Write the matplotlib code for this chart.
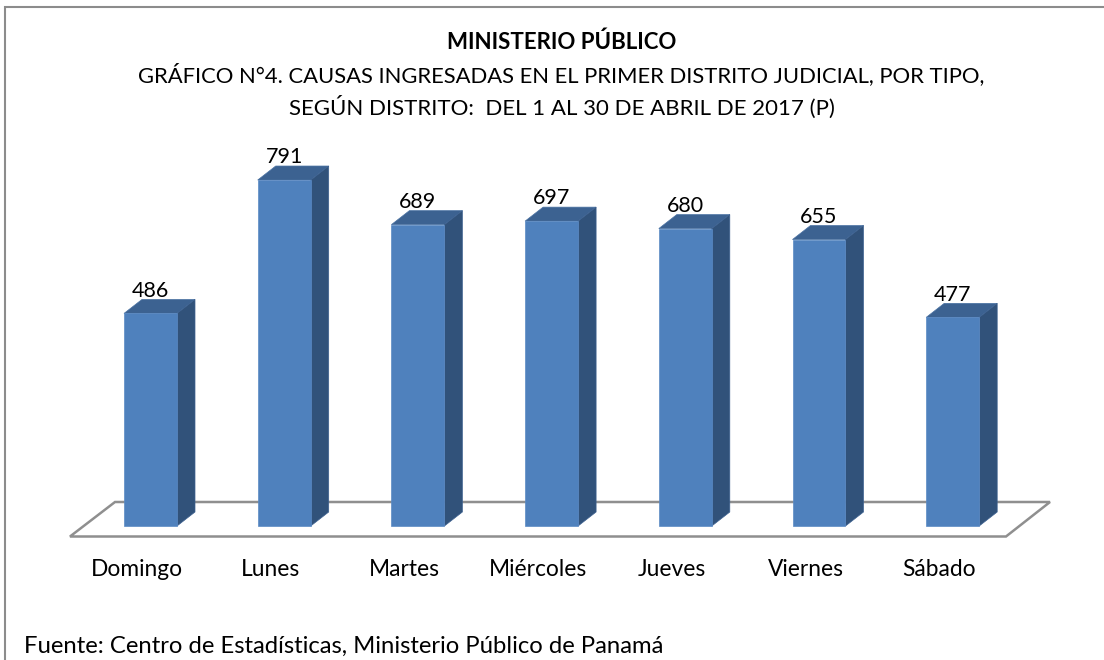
# Bar chart with fake 3D boxes, causes entered per weekday
import matplotlib
matplotlib.use("Agg")
import matplotlib.pyplot as plt
from matplotlib.patches import Polygon, Rectangle

plt.rcParams['font.family'] = ['Lato', 'DejaVu Sans']

dias = ["Domingo", "Lunes", "Martes", "Miércoles", "Jueves", "Viernes", "Sábado"]
causas = [486, 791, 689, 697, 680, 655, 477]

titulo = "MINISTERIO PÚBLICO"
subtitulo1 = "GRÁFICO N°4. CAUSAS INGRESADAS EN EL PRIMER DISTRITO JUDICIAL, POR TIPO,"
subtitulo2 = "SEGÚN DISTRITO:  DEL 1 AL 30 DE ABRIL DE 2017 (P)"
fuente = "Fuente: Centro de Estadísticas, Ministerio Público de Panamá"

W, H = 1104, 660
# pixel scale of the value axis
x0, x_step = 150.5, 133.7
y0, y_scale = 526.0, 0.4374

fig = plt.figure(figsize=(W / 100, H / 100), dpi=100)
ax = fig.add_axes([0, 0, 1, 1])
ax.set_xlim(-x0 / x_step, (W - x0) / x_step)
ax.set_ylim((y0 - H) / y_scale, y0 / y_scale)
ax.axis("off")

# offsets for the 3D look, in data units
dx = 18 / x_step
dy = 14 / y_scale
ancho = 53 / x_step

# outer frame, right and bottom edges are cut off by the image
fig.add_artist(Rectangle((5.5 / W, -0.02), 1.02, 1.02 - 6.5 / H,
                         transform=fig.transFigure, fill=False,
                         edgecolor="#8c8c8c", linewidth=1.5))

# floor
piso_y0 = (y0 - 536.5) / y_scale
piso_y1 = (y0 - 502) / y_scale
piso = [((70 - x0) / x_step, piso_y0), ((1006 - x0) / x_step, piso_y0),
        ((1050 - x0) / x_step, piso_y1), ((115 - x0) / x_step, piso_y1)]
ax.add_patch(Polygon(piso, closed=True, fill=False, edgecolor="#8f8f8f", linewidth=1.8, zorder=1))

for i, v in enumerate(causas):
    l = i - ancho / 2
    r = i + ancho / 2
    ax.bar(i, v, width=ancho, color="#4f81bd", edgecolor="#5b8ac4", linewidth=0.5, zorder=3)
    # top face
    ax.add_patch(Polygon([(l, v), (r, v), (r + dx, v + dy), (l + dx, v + dy)], closed=True,
                         facecolor="#3c6291", edgecolor="#4a72a3", linewidth=0.5, zorder=2))
    # side face
    ax.add_patch(Polygon([(r, 0), (r + dx, dy), (r + dx, v + dy), (r, v)], closed=True,
                         facecolor="#31527a", edgecolor="#3d6190", linewidth=0.5, zorder=2))
    ax.text(i, v + dy - 3, str(v), ha="center", va="bottom", fontsize=15.5, color="black", zorder=4)
    ax.text(i - 0.1, (y0 - 570) / y_scale, dias[i], ha="center", va="center", fontsize=16.4, color="black")

fig.text(561.5 / W, 1 - 42 / H, titulo, ha="center", va="center", fontsize=16, fontweight="bold")
fig.text(561.5 / W, 1 - 75 / H, subtitulo1, ha="center", va="center", fontsize=15.8)
fig.text(561.5 / W, 1 - 107 / H, subtitulo2, ha="center", va="center", fontsize=16)
fig.text(24 / W, 1 - 646 / H, fuente, ha="left", va="center", fontsize=17.2)

fig.savefig("out.png", dpi=100)
